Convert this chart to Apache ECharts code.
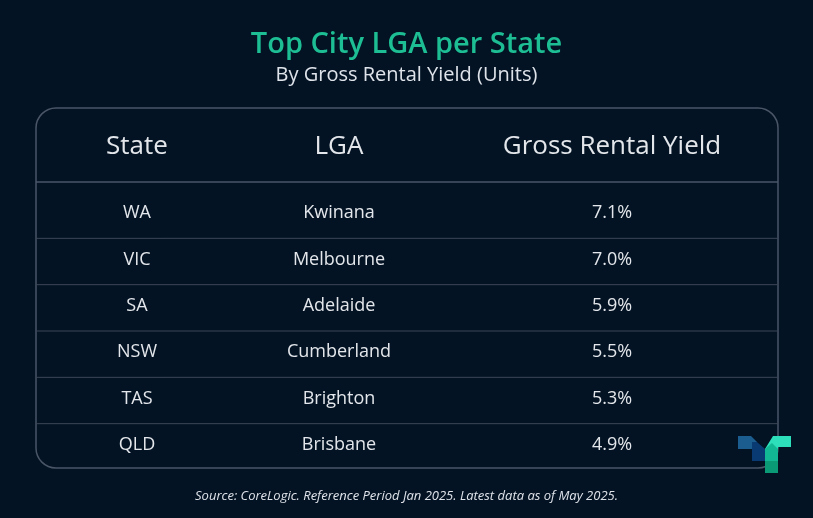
<!DOCTYPE html><html><head><meta charset="utf-8">
<script src="https://cdn.jsdelivr.net/npm/echarts@6/dist/echarts.min.js"></script>
<style>html,body{margin:0;background:#031324}#c{width:813px;height:518px}</style></head><body><div id="c"></div>
<script>
const headers=['State','LGA','Gross Rental Yield'];
const states=['WA','VIC','SA','NSW','TAS','QLD'];
const lgas=['Kwinana','Melbourne','Adelaide','Cumberland','Brighton','Brisbane'];
const yields=[7.1,7.0,5.9,5.5,5.3,4.9];
const F='"Open Sans", sans-serif';
const chart=echarts.init(document.getElementById('c'));
const data=states.map((s,i)=>[i,s,lgas[i],yields[i].toFixed(1)+'%']);
chart.setOption({
 backgroundColor:'#031324',
 title:[{text:'Top City LGA per State',left:'center',top:25,textStyle:{color:'#1ebe94',fontSize:29,fontWeight:600,fontFamily:F}},
  {text:'By Gross Rental Yield (Units)',left:'center',top:60,textStyle:{color:'#dfe3ea',fontSize:20,fontWeight:'normal',fontFamily:F}},
  {text:'Source: CoreLogic. Reference Period Jan 2025. Latest data as of May 2025.',left:'center',top:485,textStyle:{color:'#dfe3ea',fontSize:13,fontStyle:'italic',fontWeight:'normal',fontFamily:F}}],
 grid:{left:36,right:35,top:190,bottom:50},
 xAxis:{type:'value',min:0,max:1,show:false},
 yAxis:{type:'category',data:states,inverse:true,show:false},
 graphic:[
  {type:'rect',shape:{x:36,y:108,width:742,height:360,r:20},style:{fill:'none',stroke:'#4a5668',lineWidth:1.5}},
  {type:'line',shape:{x1:36,y1:182,x2:778,y2:182},style:{stroke:'#4a5668',lineWidth:1.5}},
  ...headers.map((h,i)=>({type:'text',x:[137,339,612][i],y:147,style:{text:h,fill:'#e3e6ea',font:'26px '+F,textAlign:'center',textVerticalAlign:'middle'}})),
  {type:'polygon',shape:{points:[[738,436],[751,436],[757,442],[753,449],[738,449]]},style:{fill:'#1c5d8f'}},
  {type:'polygon',shape:{points:[[752,442],[757,442],[765,449],[765,461],[752,461]]},style:{fill:'#093a72'}},
  {type:'polygon',shape:{points:[[765,449],[773,436],[791,436],[791,447],[778,447],[778,461],[765,461]]},style:{fill:'#2de0bb'}},
  {type:'polygon',shape:{points:[[765,449],[772,443],[778,449],[778,461],[765,461]]},style:{fill:'#12b893'}},
  {type:'rect',shape:{x:765,y:461,width:13,height:12},style:{fill:'#0a9a76'}}
 ],
 series:[{type:'custom',data:data,renderItem:(p,api)=>{
   const i=api.value(0);const c=api.coord([0,i]);const h=api.size([0,1])[1];
   const xs=[137,339,612];const vals=[states[i],lgas[i],yields[i].toFixed(1)+'%'];
   const ch=vals.map((v,k)=>({type:'text',x:xs[k],y:c[1],style:{text:v,fill:'#e3e6ea',font:'18px '+F,textAlign:'center',textVerticalAlign:'middle'}}));
   if(i<states.length-1)ch.push({type:'line',shape:{x1:36,y1:c[1]+h/2+2,x2:778,y2:c[1]+h/2+2},style:{stroke:'#3c4757',lineWidth:1}});
   return {type:'group',children:ch};
 }}]
});
</script></body></html>
